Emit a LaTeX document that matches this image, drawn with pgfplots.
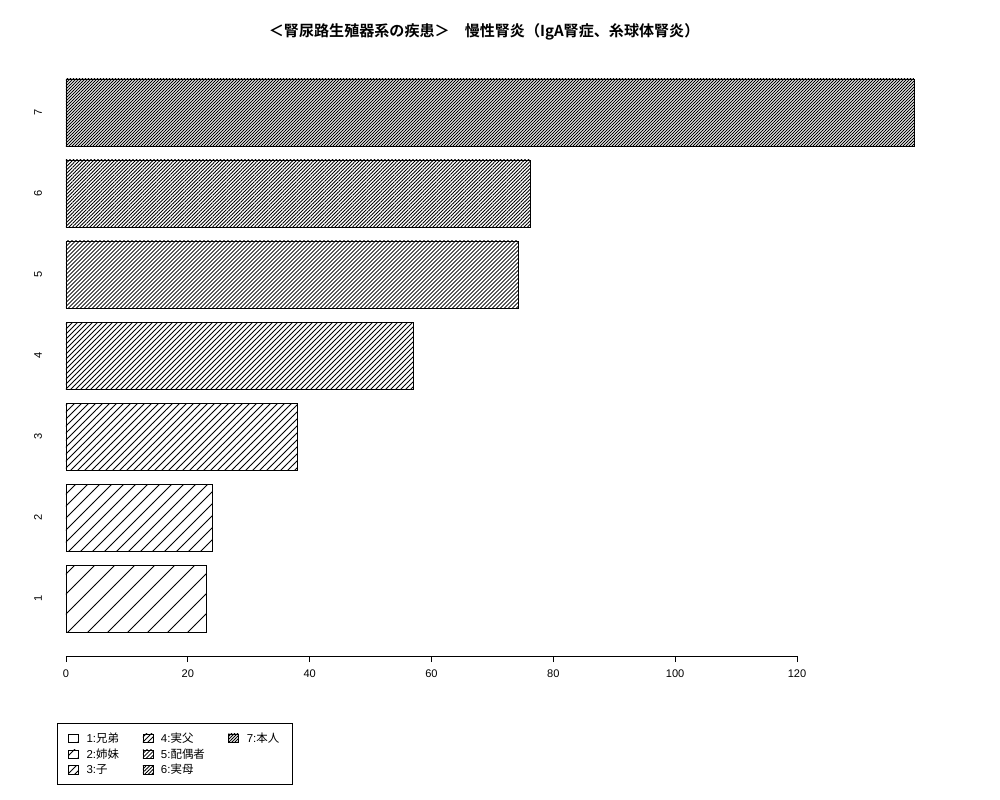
\documentclass[border=0pt]{standalone}
\usepackage{fontspec}
\setmainfont{Liberation Sans}
\newfontfamily\cjk{Noto Sans CJK JP}[BoldFont=Noto Sans CJK JP Bold]
\usepackage{pgfplots}
\pgfplotsset{compat=1.18}
\usetikzlibrary{patterns.meta}

% hatch spacing (whole pixels along x), 1px = 0.75pt
\tikzset{
  h1/.style={pattern={Lines[angle=45,distance=10.607pt,line width=0.6pt]}},
  h2/.style={pattern={Lines[angle=45,distance=6.364pt,line width=0.6pt]}},
  h3/.style={pattern={Lines[angle=45,distance=3.712pt,line width=0.6pt]}},
  h4/.style={pattern={Lines[angle=45,distance=2.652pt,line width=0.6pt]}},
  h5/.style={pattern={Lines[angle=45,distance=2.121pt,line width=0.6pt]}},
  h6/.style={pattern={Lines[angle=45,distance=1.856pt,line width=0.6pt]}},
  h7/.style={pattern={Lines[angle=45,distance=1.591pt,line width=0.6pt]}},
}

\begin{document}
\begin{tikzpicture}
\useasboundingbox (-49.5pt,-108pt) rectangle (700.5pt,492pt);
\begin{axis}[
  at={(0,0)}, anchor=south west,
  scale only axis,
  width=548.25pt, height=433pt,
  xmin=0, xmax=120,
  ymin=0.294, ymax=7.42,
  clip=false,
  axis x line=bottom,
  axis y line*=left,
  x axis line style={-, line width=0.6pt},
  y axis line style={draw=none},
  xtick={0,20,...,120},
  xtick align=outside,
  major tick length=4.5pt,
  xtick style={black, line width=0.6pt},
  ytick={1,...,7},
  ytick style={draw=none},
  yticklabel style={rotate=90, anchor=center, yshift=21pt},
  xticklabel style={yshift=-2pt},
  tick label style={font=\fontsize{8.3}{10}\selectfont},
  /pgf/number format/assume math mode=true,
  title={\cjk\bfseries ＜腎尿路生殖器系の疾患＞　慢性腎炎（IgA腎症、糸球体腎炎）},
  title style={at={(rel axis cs:0.572,1.068)}, anchor=center, font=\fontsize{11.3}{13}\selectfont},
  legend columns=3,
  legend cell align=left,
  legend image code/.code={\draw[#1,draw=black,line width=0.5pt] (0pt,-3pt) rectangle (7.5pt,3.3pt);
    \path[draw=none,fill=none,pattern=none] (12pt,0pt);},
  legend style={at={(rel axis cs:-0.0123,-0.1166)}, anchor=north west,
    draw=black, line width=0.6pt, inner xsep=8pt, inner ysep=5pt,
    font=\fontsize{8.6}{10}\selectfont,
    nodes={inner sep=1.6pt},
    /tikz/every even column/.append style={column sep=16pt}},
]
\addplot[xbar, bar shift=0pt, bar width=0.8326, draw=black, line width=0.6pt, h1, forget plot] coordinates {(23.07,1)};
\addplot[xbar, bar shift=0pt, bar width=0.8326, draw=black, line width=0.6pt, h2, forget plot] coordinates {(24.05,2)};
\addplot[xbar, bar shift=0pt, bar width=0.8326, draw=black, line width=0.6pt, h3, forget plot] coordinates {(38.0,3)};
\addplot[xbar, bar shift=0pt, bar width=0.8326, draw=black, line width=0.6pt, h4, forget plot] coordinates {(57.1,4)};
\addplot[xbar, bar shift=0pt, bar width=0.8326, draw=black, line width=0.6pt, h5, forget plot] coordinates {(74.2,5)};
\addplot[xbar, bar shift=0pt, bar width=0.8326, draw=black, line width=0.6pt, h6, forget plot] coordinates {(76.2,6)};
\addplot[xbar, bar shift=0pt, bar width=0.8326, draw=black, line width=0.6pt, h7, forget plot] coordinates {(139.2,7)};

\addlegendimage{h1}\addlegendentry{1:{\cjk 兄弟}}
\addlegendimage{h4}\addlegendentry{4:{\cjk 実父}}
\addlegendimage{h7}\addlegendentry{7:{\cjk 本人}}
\addlegendimage{h2}\addlegendentry{2:{\cjk 姉妹}}
\addlegendimage{h5}\addlegendentry{5:{\cjk 配偶者}}
\addlegendimage{empty legend}\addlegendentry{}
\addlegendimage{h3}\addlegendentry{3:{\cjk 子}}
\addlegendimage{h6}\addlegendentry{6:{\cjk 実母}}
\end{axis}
\end{tikzpicture}
\end{document}
